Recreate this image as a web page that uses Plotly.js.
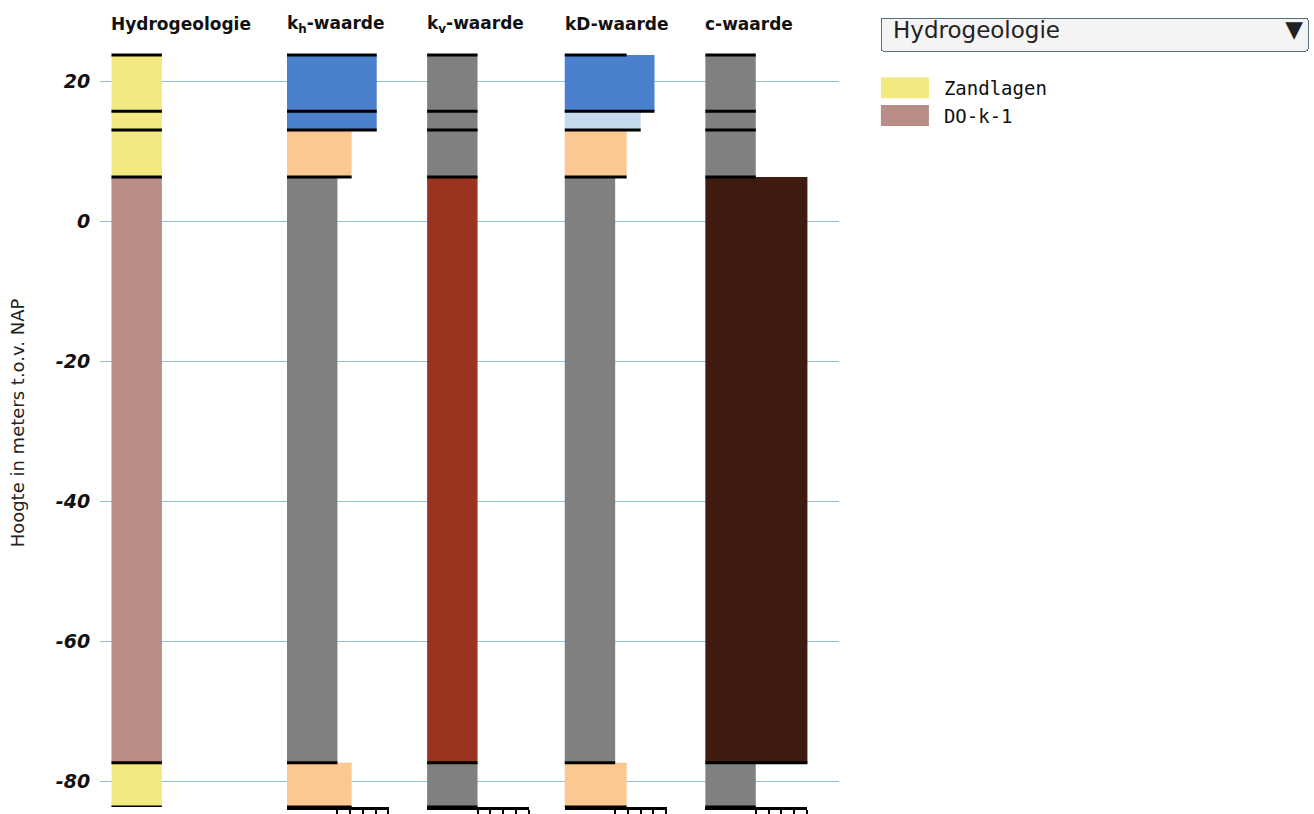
<!DOCTYPE html>
<html>
<head>
<meta charset="utf-8">
<script src="https://cdn.plot.ly/plotly-3.0.1.min.js"></script>
<style>
html, body { margin: 0; padding: 0; background: #ffffff; }
#chart { width: 1314px; height: 814px; }
.legend .legendpoints path { transform: translate(27px, 0px) scale(4, 1.75) !important; }
</style>
</head>
<body>
<div id="chart"></div>
<script>
// ---------------- data ----------------
const layerTop      = [23.7, 15.7, 13.0, 6.3, -77.3];
const layerBottom   = [15.7, 13.0, 6.3, -77.3, -83.6];
const hydroUnits    = ['Zandlagen', 'Zandlagen', 'Zandlagen', 'DO-k-1', 'Zandlagen'];
const legendUnits   = ['Zandlagen', 'DO-k-1'];
const hydroValue    = [1, 1, 1, 1, 1];
const khValue       = [1200, 1200, 13, 1, 13];
const kvValue       = [1, 1, 1, 1, 1];
const kdValue       = [1200, 100, 8, 1, 8];
const cValue        = [1, 1, 1, 12000, 1];
const topLineValue  = [1, 1200, 1, 8, 1];
const columnTitles  = ['Hydrogeologie', 'k<sub>h</sub>-waarde', 'k<sub>v</sub>-waarde', 'kD-waarde', 'c-waarde'];
const yTickValues   = [20, 0, -20, -40, -60, -80];
const yTickLabels   = ['20', '0', '-20', '-40', '-60', '-80'];
const logTickValues = [1, 10, 100, 1000, 10000];
const dropdownOptions = ['Hydrogeologie'];
const yTitle = 'Hoogte in meters t.o.v. NAP';

// ---------------- styles ----------------
const unitColor = { 'Zandlagen': '#f2ea80', 'DO-k-1': '#b98c87' };
const BLUE = '#4a80cc', LBLUE = '#c6daee', PEACH = '#fbc892', GRAY = '#808080', RED = '#9a3420', BROWN = '#3e1a10';
const columnColors = [
  null,
  [BLUE, BLUE, PEACH, GRAY, PEACH],
  [GRAY, GRAY, GRAY, RED, GRAY],
  [BLUE, LBLUE, PEACH, GRAY, PEACH],
  [GRAY, GRAY, GRAY, BROWN, GRAY]
];

// ---------------- geometry ----------------
const W = 1314, H = 814;
const M = { l: 100, r: 473, t: 39, b: 7 };
const plotW = W - M.l - M.r;
const plotH = H - M.t - M.b;
const colLeft = [111.5, 287.5, 428, 566, 707];
const colWidth = 102.4;
const px2x = p => (p - M.l) / plotW;
const py2y = p => 1 - (p - M.t) / plotH;

const columnValues = [hydroValue, khValue, kvValue, kdValue, cValue];
const centers = layerTop.map((t, i) => (t + layerBottom[i]) / 2);
const thick = layerTop.map((t, i) => t - layerBottom[i]);

const traces = [];
// empty trace that registers the full-width background subplot (grid lines)
traces.push({ type: 'scatter', mode: 'lines', x: [], y: [], xaxis: 'x', yaxis: 'y', showlegend: false, hoverinfo: 'skip' });
// bars
columnValues.forEach((vals, c) => {
  const xa = 'x' + (c + 2);
  if (c === 0) {
    legendUnits.forEach(u => {
      const idx = hydroUnits.map((h, i) => h === u ? i : -1).filter(i => i >= 0);
      traces.push({
        type: 'bar', orientation: 'h', xaxis: xa, yaxis: 'y', name: u,
        x: idx.map(i => vals[i]), y: idx.map(i => centers[i]), width: idx.map(i => thick[i]),
        marker: { color: unitColor[u], line: { width: 0 } }, showlegend: true, hoverinfo: 'skip'
      });
    });
  } else {
    traces.push({
      type: 'bar', orientation: 'h', xaxis: xa, yaxis: 'y', name: 'col' + c,
      x: vals, y: centers, width: thick,
      marker: { color: columnColors[c], line: { width: 0 } }, showlegend: false, hoverinfo: 'skip'
    });
  }
});
// boundary lines
columnValues.forEach((vals, c) => {
  const xa = 'x' + (c + 2);
  const lx = [1e-9, topLineValue[c], null], ly = [layerTop[0], layerTop[0], null];
  vals.forEach((v, i) => { lx.push(1e-9, v, null); ly.push(layerBottom[i], layerBottom[i], null); });
  traces.push({
    type: 'scatter', mode: 'lines', xaxis: xa, yaxis: 'y', x: lx, y: ly,
    line: { color: '#000000', width: 3 }, showlegend: false, hoverinfo: 'skip'
  });
});

const layout = {
  width: W, height: H, margin: M,
  paper_bgcolor: '#ffffff', plot_bgcolor: 'rgba(0,0,0,0)',
  barmode: 'overlay', hovermode: false, dragmode: false,
  showlegend: true,
  font: { family: 'DejaVu Sans', color: '#111111' },
  xaxis: {
    domain: [0, 1], anchor: 'y', range: [0, 1], fixedrange: true,
    showgrid: false, zeroline: false, showline: false, ticks: '', showticklabels: false
  },
  yaxis: {
    domain: [0, 1], anchor: 'x', range: [-83.6, 26], fixedrange: true,
    tickvals: yTickValues, ticktext: yTickLabels,
    tickfont: { family: 'DejaVu Sans', size: 19, weight: 'bold', style: 'italic', color: '#111111' },
    ticks: 'outside', ticklen: 5, tickcolor: 'rgba(0,0,0,0)',
    showgrid: true, gridcolor: '#8fbde6', gridwidth: 1, zeroline: false, showline: false,
    title: { text: yTitle, font: { family: 'DejaVu Sans', size: 18, color: '#222222' }, standoff: 26 }
  },
  legend: {
    x: px2x(880), y: py2y(69), xanchor: 'left', yanchor: 'top',
    font: { family: 'DejaVu Sans Mono', size: 19, color: '#111111' },
    itemwidth: 56, bgcolor: 'rgba(0,0,0,0)', borderwidth: 0, itemclick: false, itemdoubleclick: false
  },
  annotations: columnTitles.map((t, c) => ({
    text: '<b>' + t + '</b>', xref: 'x' + (c + 2) + ' domain', x: 0, xanchor: 'left', xshift: -2,
    yref: 'paper', y: py2y(24), yanchor: 'middle', showarrow: false,
    font: { family: 'DejaVu Sans', size: 17, color: '#111111' }
  })),
  updatemenus: [{
    type: 'dropdown', direction: 'down', active: 0, showactive: true,
    x: px2x(882), y: py2y(17), xanchor: 'left', yanchor: 'top',
    pad: { t: 0, r: 0, b: 0, l: 0 },
    bgcolor: '#f4f4f4', bordercolor: '#56707c', borderwidth: 1,
    font: { family: 'DejaVu Sans', size: 23, color: '#222222' },
    buttons: dropdownOptions.map(o => ({ label: o + '\u00a0'.repeat(30), method: 'skip', args: [] }))
  }]
};

columnValues.forEach((vals, c) => {
  const isLog = c > 0;
  layout['xaxis' + (c + 2)] = {
    domain: [px2x(colLeft[c]), px2x(colLeft[c] + colWidth)], anchor: 'y',
    type: 'log', range: [-3.95, 4.05], fixedrange: true,
    showgrid: false, zeroline: false,
    showline: isLog, linecolor: '#000000', linewidth: 3,
    ticks: isLog ? 'outside' : '', ticklen: 9, tickwidth: 2, tickcolor: '#000000',
    tickvals: logTickValues, showticklabels: false
  };
});

Plotly.newPlot('chart', traces, layout, { displayModeBar: false, responsive: false });
</script>
</body>
</html>
